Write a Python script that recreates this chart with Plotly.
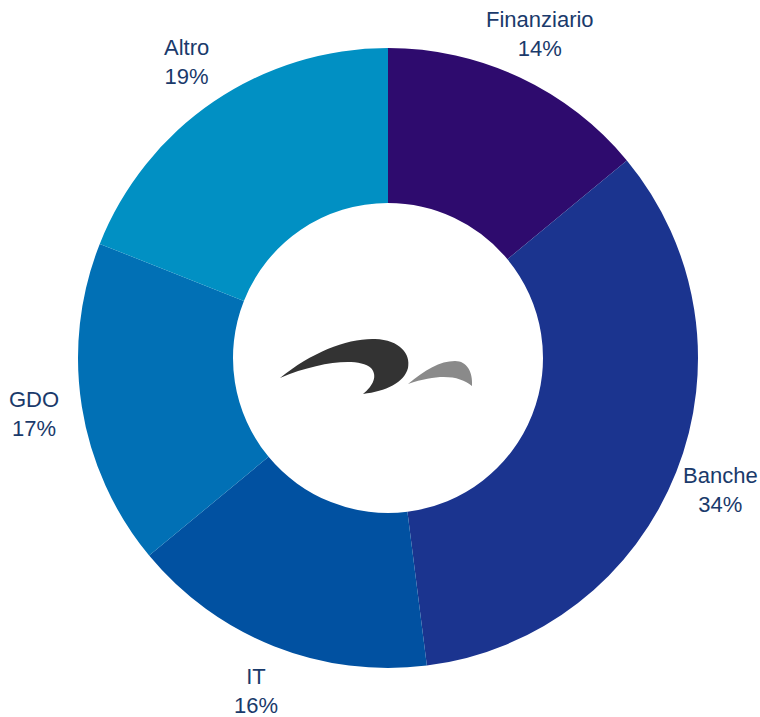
import math
import plotly.graph_objects as go

categories = ["Finanziario", "Banche", "IT", "GDO", "Altro"]
values = [14, 34, 16, 17, 19]
colors = ["#2E0B6E", "#1B348F", "#0151A1", "#0170B5", "#0190C3"]

W, H = 760, 717
cx, cy, R = 388, 358, 310
LABEL_R = 358

def px(x, y):
    return f"{x / W:.5f},{1 - y / H:.5f}"

def path(cmds):
    out = []
    for c in cmds:
        if c[0] in ("M", "L"):
            out.append(f"{c[0]} {px(*c[1])}")
        elif c[0] == "C":
            out.append("C " + " ".join(px(*p) for p in c[1:]))
        elif c[0] == "Z":
            out.append("Z")
    return " ".join(out)

dark = path([
    ("M", (280, 378)),
    ("C", (312, 352), (348, 338), (375, 339)),
    ("C", (400, 340), (411, 354), (408, 368)),
    ("C", (404, 383), (386, 391), (363, 394)),
    ("C", (373, 386), (378, 376), (371, 368)),
    ("C", (358, 357), (318, 362), (280, 378)),
    ("Z",),
])
grey = path([
    ("M", (408, 384)),
    ("C", (425, 370), (440, 361), (455, 361)),
    ("C", (467, 361), (473, 372), (472, 386)),
    ("C", (460, 376), (440, 373), (408, 384)),
    ("Z",),
])

fig = go.Figure(go.Pie(
    labels=categories,
    values=values,
    sort=False,
    direction="clockwise",
    rotation=0,
    hole=0.5,
    marker=dict(colors=colors, line=dict(width=0)),
    textinfo="none",
    hoverinfo="label+percent",
    domain=dict(x=[(cx - R) / W, (cx + R) / W], y=[1 - (cy + R) / H, 1 - (cy - R) / H]),
    showlegend=False,
))

# labels outside each slice, at its mid angle
total = sum(values)
annotations = []
cum = 0
for cat, v in zip(categories, values):
    mid = (cum + v / 2) / total * 2 * math.pi
    cum += v
    lx = cx + LABEL_R * math.sin(mid)
    ly = cy - LABEL_R * math.cos(mid)
    annotations.append(dict(
        x=lx / W, y=1 - ly / H, xref="paper", yref="paper",
        text=f"{cat}<br>{round(v / total * 100)}%",
        showarrow=False, xanchor="center", yanchor="middle", align="center",
        font=dict(family="Liberation Sans, Arial, sans-serif", size=22, color="#1A3A6B"),
    ))

fig.update_layout(
    width=W, height=H,
    margin=dict(l=0, r=0, t=0, b=0),
    paper_bgcolor="white",
    plot_bgcolor="white",
    annotations=annotations,
    shapes=[
        dict(type="path", xref="paper", yref="paper", path=dark,
             fillcolor="#333333", line=dict(width=0)),
        dict(type="path", xref="paper", yref="paper", path=grey,
             fillcolor="#8a8a8a", line=dict(width=0)),
    ],
)

fig.write_html("out.html", config={"displayModeBar": False},
               post_script="document.body.style.margin='0';")
